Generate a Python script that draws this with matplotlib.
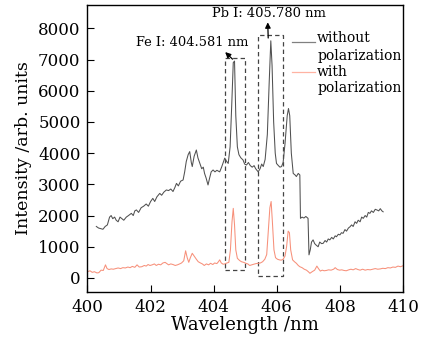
import matplotlib
matplotlib.use("Agg")
import matplotlib.pyplot as plt
from matplotlib.patches import Rectangle

# ---- data ----
wl_without = [400.28, 400.35, 400.42, 400.49, 400.56, 400.63, 400.70, 400.75, 400.80, 400.86, 400.91, 400.97,
              401.03, 401.09, 401.15, 401.23, 401.30, 401.39, 401.45, 401.50, 401.55, 401.62, 401.70, 401.78,
              401.86, 401.93, 402.00, 402.07, 402.13, 402.20, 402.29, 402.35, 402.42, 402.50, 402.57, 402.64,
              402.71, 402.77, 402.82, 402.88, 402.95, 403.03, 403.08, 403.13, 403.19, 403.24, 403.29, 403.32,
              403.38, 403.45, 403.50, 403.56, 403.62, 403.67, 403.71, 403.76, 403.82, 403.87, 403.92, 403.98,
              404.04, 404.10, 404.19, 404.25, 404.30, 404.35, 404.40, 404.46, 404.52, 404.57, 404.62, 404.66,
              404.70, 404.75, 404.80, 404.86, 404.93, 404.98, 405.04, 405.10, 405.16, 405.22, 405.28, 405.33,
              405.41, 405.47, 405.52, 405.57, 405.63, 405.70, 405.76, 405.81, 405.85, 405.90, 405.95, 405.99,
              406.05, 406.10, 406.15, 406.20, 406.26, 406.33, 406.37, 406.41, 406.46, 406.52, 406.58, 406.62,
              406.68, 406.73, 406.75, 406.80, 406.86, 406.92, 406.99, 407.02, 407.06, 407.10, 407.15, 407.20,
              407.25, 407.31, 407.36, 407.42, 407.47, 407.53, 407.58, 407.63, 407.68, 407.74, 407.79, 407.85,
              407.89, 407.95, 408.00, 408.05, 408.10, 408.16, 408.21, 408.27, 408.32, 408.37, 408.42, 408.48,
              408.53, 408.58, 408.64, 408.69, 408.74, 408.80, 408.85, 408.90, 408.95, 409.00, 409.06, 409.12,
              409.17, 409.23, 409.28, 409.33, 409.37]
int_without = [1650, 1600, 1580, 1560, 1650, 1700, 1950, 2000, 1900, 1950, 1850, 1800,
               1950, 1900, 1850, 1950, 2000, 2070, 2000, 2150, 2180, 2100, 2250, 2300,
               2370, 2300, 2450, 2550, 2450, 2600, 2710, 2650, 2750, 2820, 2800, 2850,
               2770, 2900, 3030, 2950, 3100, 3140, 3400, 3730, 3950, 4050, 3700, 3570,
               3900, 4100, 3850, 3670, 3500, 3550, 3350, 3200, 2980, 3200, 3400, 3460,
               3400, 3450, 3400, 3550, 3700, 3840, 3750, 3670, 4200, 5500, 6900, 6950,
               5200, 4200, 3950, 3850, 3780, 3650, 3620, 3700, 3600, 3550, 3600, 3500,
               3400, 3500, 3650, 3570, 3800, 4600, 6300, 7600, 6800, 5000, 4000, 3670,
               3600, 3550, 3570, 3700, 4300, 5200, 5430, 5200, 4000, 3350, 3300, 3250,
               3350, 3300, 1910, 1950, 1920, 1970, 1910, 740, 900, 1150, 1220, 1100,
               1050, 1000, 1150, 1100, 1110, 1200, 1150, 1250, 1220, 1300, 1250, 1350,
               1320, 1400, 1380, 1450, 1430, 1550, 1500, 1600, 1640, 1700, 1650, 1800,
               1750, 1850, 1800, 1950, 1910, 2000, 1950, 2100, 2070, 2150, 2100, 2200,
               2180, 2150, 2220, 2150, 2120]

wl_with = [400.00, 400.08, 400.15, 400.22, 400.30, 400.36, 400.43, 400.50, 400.57, 400.62, 400.68, 400.75,
           400.82, 400.90, 400.97, 401.05, 401.12, 401.20, 401.28, 401.35, 401.42, 401.50, 401.57, 401.64,
           401.72, 401.80, 401.86, 401.92, 401.98, 402.05, 402.12, 402.18, 402.25, 402.32, 402.39, 402.46,
           402.50, 402.57, 402.64, 402.71, 402.78, 402.85, 402.92, 402.98, 403.05, 403.11, 403.16, 403.21,
           403.26, 403.32, 403.38, 403.45, 403.51, 403.58, 403.64, 403.70, 403.77, 403.84, 403.90, 403.97,
           404.03, 404.10, 404.15, 404.19, 404.24, 404.30, 404.35, 404.42, 404.48, 404.53, 404.58, 404.62,
           404.66, 404.70, 404.75, 404.82, 404.88, 404.95, 405.02, 405.08, 405.14, 405.20, 405.27, 405.34,
           405.41, 405.48, 405.55, 405.62, 405.68, 405.73, 405.78, 405.82, 405.86, 405.91, 405.96, 406.02,
           406.08, 406.14, 406.20, 406.26, 406.31, 406.36, 406.40, 406.44, 406.50, 406.56, 406.62, 406.68,
           406.73, 406.80, 406.87, 406.94, 407.00, 407.05, 407.12, 407.20, 407.27, 407.32, 407.38, 407.44,
           407.50, 407.57, 407.64, 407.72, 407.80, 407.85, 407.92, 407.99, 408.06, 408.13, 408.20, 408.28,
           408.35, 408.42, 408.50, 408.57, 408.64, 408.72, 408.80, 408.88, 408.96, 409.04, 409.12, 409.20,
           409.28, 409.36, 409.44, 409.52, 409.60, 409.68, 409.76, 409.84, 409.92, 410.00]
int_with = [200, 230, 180, 200, 160, 170, 250, 240, 420, 300, 270, 290,
            280, 300, 320, 300, 330, 320, 350, 330, 370, 340, 420, 350,
            360, 400, 380, 430, 400, 420, 450, 400, 440, 420, 480, 500,
            470, 420, 450, 430, 400, 420, 450, 480, 550, 870, 650, 500,
            650, 790, 700, 600, 520, 480, 450, 400, 450, 420, 470, 430,
            480, 460, 520, 580, 480, 440, 450, 480, 500, 900, 1800, 2230,
            1700, 900, 630, 560, 520, 500, 470, 450, 400, 420, 440, 460,
            470, 480, 520, 600, 750, 1500, 2250, 2450, 1800, 900, 650, 600,
            580, 570, 600, 700, 1000, 1500, 1450, 900, 580, 520, 470, 400,
            360, 330, 280, 250, 200, 150, 200, 250, 380, 300, 220, 250,
            230, 240, 260, 250, 280, 330, 270, 250, 260, 240, 230, 260,
            280, 260, 300, 270, 250, 280, 250, 270, 260, 280, 300, 280,
            290, 310, 300, 330, 320, 350, 340, 380, 360, 390]

x_ticks = [400, 402, 404, 406, 408, 410]
y_ticks = [0, 1000, 2000, 3000, 4000, 5000, 6000, 7000, 8000]
fe_label = "Fe I: 404.581 nm"
pb_label = "Pb I: 405.780 nm"
fe_box = (404.37, 245, 405.00, 7040)
pb_box = (405.41, 75, 406.20, 7770)
series_names = ["without\npolarization", "with\npolarization"]

# ---- figure ----
plt.rcParams['font.family'] = ['DejaVu Serif']
fig = plt.figure(figsize=(4.34, 3.43), dpi=100)
ax = fig.add_axes([0.2016, 0.1487, 0.727, 0.837])

ax.plot(wl_without, int_without, color='#505050', lw=0.75)
ax.plot(wl_with, int_with, color='#f7907a', lw=0.75)

for (x0, y0, x1, y1) in (fe_box, pb_box):
    ax.add_patch(Rectangle((x0, y0), x1 - x0, y1 - y0, fill=False, ec='#444444',
                           lw=0.9, ls=(0, (3.5, 2.5))))

ax.annotate('', xy=(404.30, 7300), xytext=(404.66, 6950),
            arrowprops=dict(arrowstyle='-|>', color='black', lw=0.9, mutation_scale=8))
ax.annotate('', xy=(405.71, 8280), xytext=(405.73, 7600),
            arrowprops=dict(arrowstyle='-|>', color='black', lw=0.9, mutation_scale=8))
ax.text(403.32, 7530, fe_label, ha='center', va='center', fontsize=9.4)
ax.text(405.74, 8470, pb_label, ha='center', va='center', fontsize=9.4)

# manual legend
tr = ax.transAxes
ax.plot([0.647, 0.721], [0.872, 0.872], color='#808080', lw=0.9, transform=tr)
ax.plot([0.647, 0.721], [0.768, 0.768], color='#ffb3a3', lw=0.9, transform=tr)
ax.text(0.728, 0.884, series_names[0].split('\n')[0], transform=tr, fontsize=10, va='center', ha='left')
ax.text(0.728, 0.822, series_names[0].split('\n')[1], transform=tr, fontsize=10, va='center', ha='left')
ax.text(0.728, 0.768, series_names[1].split('\n')[0], transform=tr, fontsize=10, va='center', ha='left')
ax.text(0.728, 0.710, series_names[1].split('\n')[1], transform=tr, fontsize=10, va='center', ha='left')

ax.set_xlim(400, 410)
ax.set_ylim(-450, 8750)
ax.set_xticks(x_ticks)
ax.set_yticks(y_ticks)
ax.tick_params(direction='in', length=5, width=0.8, labelsize=12, pad=5, top=False, right=False)
ax.set_xlabel('Wavelength /nm', fontsize=13, labelpad=0)
ax.set_ylabel('Intensity /arb. units', fontsize=12.5, labelpad=4)
for s in ax.spines.values():
    s.set_linewidth(1.0)

fig.savefig('out.png', dpi=100)
